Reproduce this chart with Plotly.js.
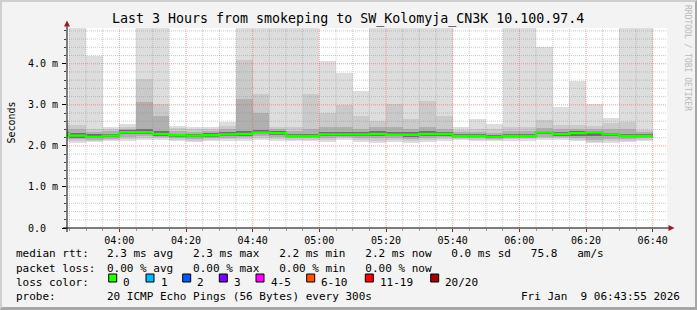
<!DOCTYPE html>
<html><head><meta charset="utf-8">
<script src="https://cdn.plot.ly/plotly-3.0.1.min.js"></script>
<style>
html,body{margin:0;padding:0;background:#f3f3f3;}
#wrap{position:relative;width:697px;height:310px;overflow:hidden;}
#chart{width:697px;height:310px;}
#frame{position:absolute;left:0;top:0;width:697px;height:310px;box-sizing:border-box;border-top:2px solid #cfcfcf;border-left:2px solid #cfcfcf;border-right:2px solid #a6a6a6;border-bottom:3px solid #a6a6a6;pointer-events:none;}
</style>
</head><body>
<div id="wrap"><div id="chart"></div><div id="frame"></div></div>
<script>
// ---- data (milliseconds), one entry per 5-minute interval, labelled by interval end ----
const barEnd = ['03:45','03:50','03:55','04:00','04:05','04:10','04:15','04:20','04:25','04:30','04:35','04:40',
                '04:45','04:50','04:55','05:00','05:05','05:10','05:15','05:20','05:25','05:30','05:35','05:40',
                '05:45','05:50','05:55','06:00','06:05','06:10','06:15','06:20','06:25','06:30','06:35','06:40'];
const smokeMax = [2.63,6.0,4.18,2.46,2.54,6.0,6.0,2.49,2.46,2.46,2.57,6.0,
                  6.0,6.0,6.0,6.0,4.06,3.77,3.33,6.0,6.0,6.0,6.0,6.0,
                  2.46,2.66,2.54,6.0,6.0,4.40,2.94,3.59,3.02,2.67,6.0,6.0];
const smokeHi2 = [2.50,2.50,2.40,2.40,2.47,3.63,3.02,2.43,2.40,2.41,2.48,4.10,
                  3.27,2.45,2.45,3.27,2.81,3.00,2.73,2.61,3.02,2.65,3.10,2.73,
                  2.38,2.42,2.40,2.46,2.46,2.63,2.52,2.52,2.49,2.55,2.57,2.39];
const smokeHi3 = [2.40,2.42,2.34,2.35,2.42,3.07,2.73,2.36,2.34,2.36,2.40,3.15,
                  2.81,2.40,2.36,2.42,2.45,2.45,2.42,2.45,2.45,2.42,2.45,2.42,
                  2.33,2.34,2.31,2.37,2.36,2.43,2.41,2.42,2.41,2.41,2.41,2.33];
const smokeHi4 = [2.33,2.32,2.28,2.30,2.38,2.42,2.36,2.30,2.30,2.31,2.33,2.36,
                  2.38,2.36,2.29,2.30,2.33,2.33,2.33,2.35,2.33,2.33,2.35,2.34,
                  2.28,2.29,2.26,2.29,2.29,2.37,2.34,2.35,2.37,2.32,2.29,2.28];
const medianRtt = [2.29,2.25,2.22,2.25,2.33,2.33,2.29,2.26,2.25,2.26,2.28,2.29,
                   2.32,2.31,2.24,2.24,2.28,2.28,2.28,2.29,2.27,2.27,2.29,2.29,
                   2.24,2.24,2.22,2.24,2.24,2.33,2.29,2.31,2.33,2.28,2.24,2.24];
const smokeLo4 = [2.25,2.20,2.19,2.21,2.28,2.29,2.25,2.22,2.21,2.22,2.24,2.25,
                  2.28,2.27,2.21,2.21,2.24,2.25,2.24,2.24,2.23,2.22,2.24,2.25,
                  2.21,2.21,2.19,2.21,2.21,2.28,2.25,2.25,2.24,2.23,2.21,2.21];
const smokeLo3 = [2.20,2.16,2.15,2.17,2.22,2.25,2.22,2.18,2.17,2.19,2.20,2.21,
                  2.23,2.22,2.18,2.18,2.20,2.22,2.19,2.18,2.18,2.17,2.19,2.21,
                  2.19,2.18,2.17,2.19,2.19,2.22,2.22,2.19,2.15,2.17,2.17,2.18];
const smokeLo2 = [2.16,2.12,2.12,2.14,2.16,2.20,2.18,2.15,2.13,2.15,2.16,2.17,
                  2.19,2.17,2.15,2.15,2.15,2.18,2.14,2.12,2.14,2.12,2.14,2.17,
                  2.17,2.15,2.14,2.16,2.16,2.18,2.18,2.15,2.10,2.12,2.13,2.15];
const smokeMin = [2.12,2.07,2.10,2.12,2.12,2.15,2.15,2.12,2.10,2.12,2.13,2.12,
                  2.15,2.13,2.12,2.12,2.10,2.15,2.10,2.07,2.10,2.08,2.10,2.13,
                  2.15,2.13,2.12,2.13,2.13,2.15,2.15,2.12,2.06,2.08,2.10,2.12];

const yTickVals = [0,1,2,3,4];
const yTickText = ['0.0\u00a0\u00a0','1.0 m','2.0 m','3.0 m','4.0 m'];

const lossLabels = ['0','1','2','3','4-5','6-10','11-19','20/20'];
const lossColors = ['#26ff00','#00b8ff','#0059ff','#7e00ff','#ff00ff','#ff5500','#ff0000','#a10000'];

const titleText = 'Last 3 Hours from smokeping to SW_Kolomyja_CN3K 10.100.97.4';
const legendRows = [
  ['median rtt:', '2.3 ms avg   2.3 ms max   2.2 ms min   2.2 ms now   0.0 ms sd   75.8   am/s'],
  ['packet loss:', '0.00 % avg   0.00 % max   0.00 % min   0.00 % now'],
  ['loss color:', ''],
  ['probe:', '20 ICMP Echo Pings (56 Bytes) every 300s']
];
const stampText = 'Fri Jan  9 06:43:55 2026';

// ---- layout constants ----
const L = 67, T = 28, W = 600, H = 200;
const px = x => (x - L) / W;
const py = y => (T + H - y) / H;
const MONO = 'DejaVu Sans Mono, monospace';
const nb = s => s.replace(/ /g, '\u00a0');

const toMs = s => { const [h, m] = s.split(':').map(Number); return Date.UTC(2026, 0, 9, h, m, 0); };
const STEP = 300000;
const endMs = barEnd.map(toMs);
const centers = endMs.map(t => t - STEP / 2);
const rangeStart = Date.UTC(2026, 0, 9, 3, 44, 18);
const rangeEnd = Date.UTC(2026, 0, 9, 6, 44, 18);
const yMax = 4.87;

function band(lo, hi, color) {
  return {type: 'bar', x: centers, base: lo, y: hi.map((v, i) => v - lo[i]), width: STEP,
          marker: {color: color, line: {width: 0}}, hoverinfo: 'skip', showlegend: false};
}

const traces = [
  band(smokeMin, smokeMax, '#dddddd'),
  band(smokeLo2, smokeHi2, '#cacaca'),
  band(smokeLo3, smokeHi3, '#b0b0b0'),
  band(smokeLo4, smokeHi4, '#6e6e6e'),
  {type: 'scatter', mode: 'lines', x: endMs.map(t => t - STEP).concat([endMs[endMs.length - 1]]),
   y: medianRtt.concat([medianRtt[medianRtt.length - 1]]), line: {shape: 'hv', color: '#20ff00', width: 2.4},
   hoverinfo: 'skip', showlegend: false}
];

// ---- grid (drawn on top of the smoke, like rrdtool) ----
const shapes = [];
const gridMinor = 'rgba(140,140,140,0.45)', gridMajor = 'rgba(255,80,80,0.55)';
for (let t = Date.UTC(2026, 0, 9, 3, 45); t < rangeEnd; t += STEP) {
  const major = ((t - Date.UTC(2026, 0, 9, 4, 0)) % 1200000) === 0;
  shapes.push({type: 'line', layer: 'above', xref: 'x', yref: 'paper', x0: t, x1: t, y0: 0, y1: 1,
               line: {color: major ? gridMajor : gridMinor, width: 1, dash: '1px,1px'}});
}
for (let k = 1; k <= 24; k++) {
  const v = k * 0.2; const major = (k % 5) === 0;
  shapes.push({type: 'line', layer: 'above', xref: 'paper', yref: 'y', x0: 0, x1: 1, y0: v, y1: v,
               line: {color: major ? gridMajor : gridMinor, width: 1, dash: '1px,1px'}});
}
// axes with arrows
const AX = '#000000', ARROW = '#9b1c1c';
shapes.push({type: 'line', layer: 'above', xref: 'paper', yref: 'paper', x0: px(67), x1: px(67), y0: py(232), y1: py(24), line: {color: AX, width: 1}});
shapes.push({type: 'line', layer: 'above', xref: 'paper', yref: 'paper', x0: px(63), x1: px(670), y0: py(228), y1: py(228), line: {color: AX, width: 1}});
shapes.push({type: 'path', layer: 'above', xref: 'paper', yref: 'paper',
  path: `M ${px(64)} ${py(26.5)} L ${px(70)} ${py(26.5)} L ${px(67)} ${py(20.5)} Z`, fillcolor: ARROW, line: {width: 0}});
shapes.push({type: 'path', layer: 'above', xref: 'paper', yref: 'paper',
  path: `M ${px(668.5)} ${py(225)} L ${px(668.5)} ${py(231)} L ${px(674.5)} ${py(228)} Z`, fillcolor: ARROW, line: {width: 0}});

// ---- texts ----
const ann = [];
function txt(x, y, s, opts) {
  ann.push(Object.assign({xref: 'paper', yref: 'paper', x: px(x), y: py(y), text: nb(s), showarrow: false,
    xanchor: 'left', yanchor: 'middle', borderpad: 0, borderwidth: 0,
    font: {family: MONO, size: 11, color: '#000'}}, opts || {}));
}
txt(348, 19, titleText, {xanchor: 'center', font: {family: MONO, size: 13.3, color: '#000'}});
txt(10.5, 123, 'Seconds', {xanchor: 'center', textangle: -90, font: {family: MONO, size: 10, color: '#000'}});
txt(688, 58, 'RRDTOOL / TOBI OETIKER', {xanchor: 'center', textangle: 90, font: {family: MONO, size: 8, color: '#b8b8b8'}});
const rowY = [254, 268, 282, 296];
legendRows.forEach((r, i) => {
  txt(16, rowY[i], r[0]);
  if (r[1]) txt(107, rowY[i], r[1]);
});
txt(680, rowY[3], stampText, {xanchor: 'right'});
const boxX = [108.7, 146, 182.7, 219.3, 256, 306.7, 365.3, 430.7];
lossLabels.forEach((lab, i) => {
  shapes.push({type: 'rect', layer: 'above', xref: 'paper', yref: 'paper',
    x0: px(boxX[i]), x1: px(boxX[i] + 8), y0: py(282), y1: py(274), fillcolor: lossColors[i], line: {color: '#000', width: 1}});
  txt(boxX[i] + 14.6, rowY[2], lab);
});

const layout = {
  width: 697, height: 310,
  margin: {l: L, r: 697 - L - W, t: T, b: 310 - T - H, pad: 0},
  paper_bgcolor: '#f3f3f3', plot_bgcolor: '#ffffff',
  barmode: 'overlay', bargap: 0, showlegend: false,
  xaxis: {type: 'date', range: [rangeStart, rangeEnd], tickmode: 'linear', tick0: Date.UTC(2026, 0, 9, 4, 0), dtick: 1200000,
          tickformat: '%H:%M', showgrid: false, zeroline: false, showline: false,
          ticks: 'outside', ticklen: 3, tickcolor: '#9b1c1c', tickfont: {family: MONO, size: 10, color: '#000'},
          minor: {tickmode: 'linear', dtick: STEP, ticks: 'outside', ticklen: 2, tickcolor: '#999', showgrid: false},
          fixedrange: true},
  yaxis: {range: [0, yMax], tickmode: 'array', tickvals: yTickVals, ticktext: yTickText, showgrid: false, zeroline: false,
          showline: false, ticks: 'outside', ticklen: 4, tickcolor: '#000', ticklabelstandoff: 2,
          tickfont: {family: MONO, size: 10, color: '#000'},
          minor: {tickmode: 'linear', tick0: 0, dtick: 0.2, ticks: 'outside', ticklen: 2, tickcolor: '#444', showgrid: false},
          fixedrange: true},
  shapes: shapes, annotations: ann
};
Plotly.newPlot('chart', traces, layout, {displayModeBar: false, staticPlot: true});
</script>
</body></html>
